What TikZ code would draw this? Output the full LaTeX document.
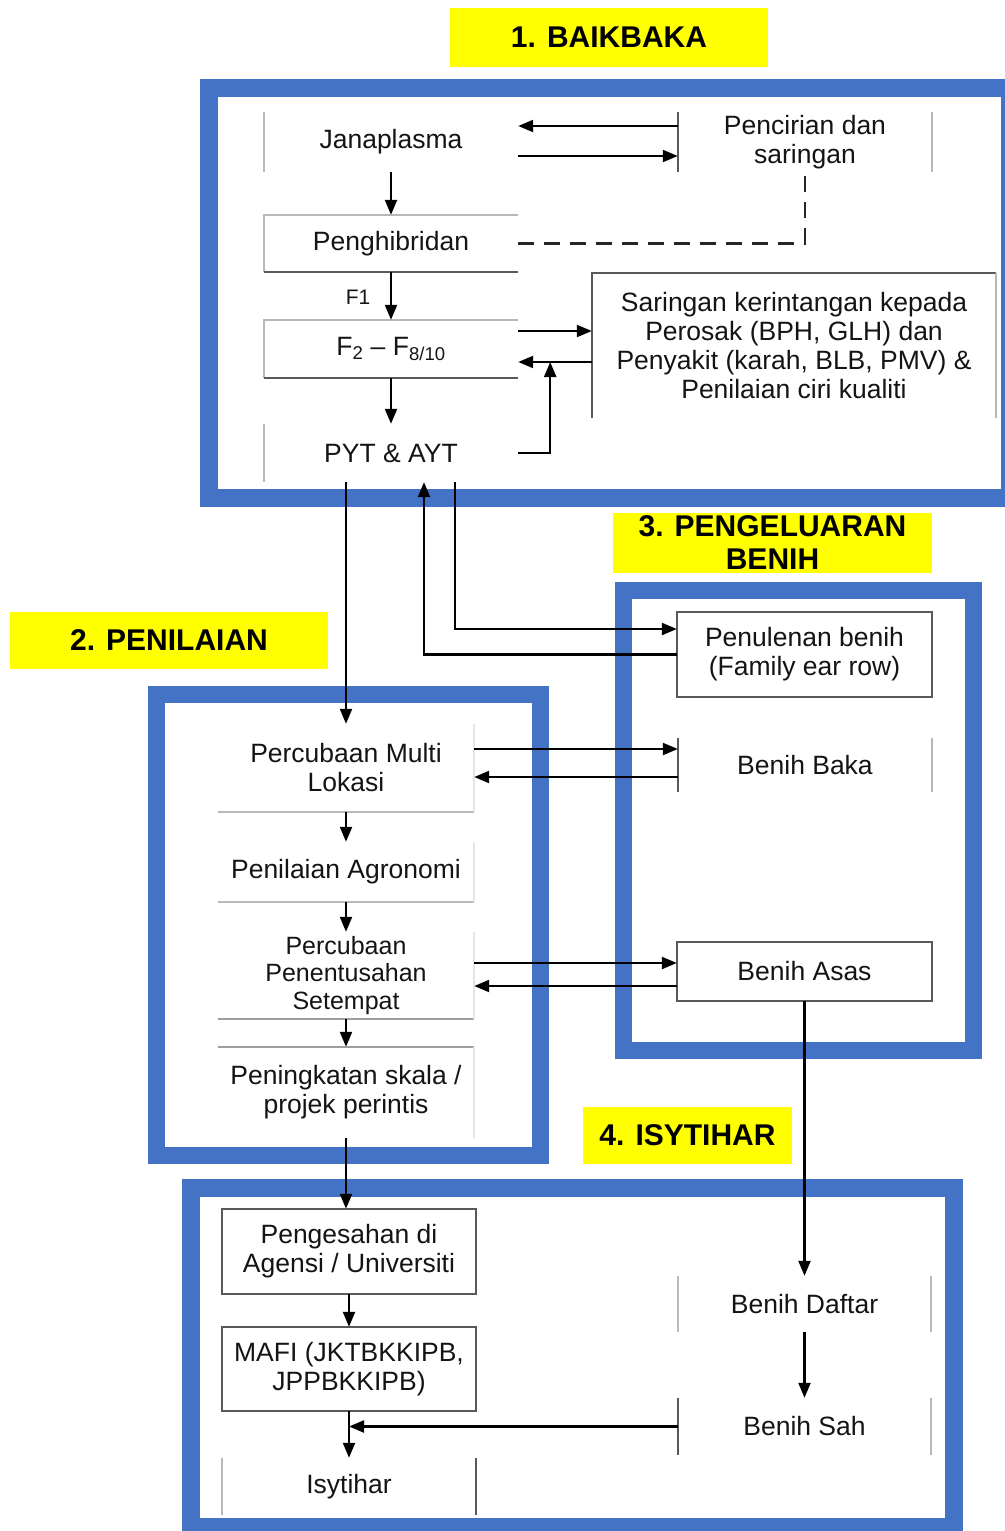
\documentclass[tikz,border=0pt]{standalone}
\usepackage{fontspec}
\setmainfont{Liberation Sans}
\usetikzlibrary{arrows.meta,calc}
\definecolor{fblue}{RGB}{68,114,196}
\definecolor{ylw}{RGB}{255,255,0}
\tikzset{
  txt/.style={inner sep=0pt, align=center, text=black!92, font=\fontsize{26.5}{29}\selectfont},
  bx/.style 2 args={txt, minimum width=#1, minimum height=#2},
  ttl/.style={fill=ylw, inner sep=0pt, align=center, text=black, font=\fontsize{30}{33}\bfseries\selectfont},
  arr/.style={draw=black, line width=2.2pt, -{Triangle[length=15pt,width=12pt]}},
  dsh/.style={draw=black!85, line width=2.2pt, dash pattern=on 16pt off 10pt},
  lt/.style={draw=black!28, line width=1.7pt},
  vlt/.style={draw=black!10, line width=1.5pt},
  dk/.style={draw=black!65, line width=1.9pt},
  frame/.style={draw=fblue, line width=18pt}
}
\begin{document}
\begin{tikzpicture}[x=1pt,y=-1pt]
\useasboundingbox (0,0) rectangle (1004,1531);
\fill[white] (0,0) rectangle (1004,1531);

% frames
\draw[frame] (209,88) rectangle (1010,498);
\draw[frame, line width=17pt] (623.5,590.5) rectangle (973.5,1050.5);
\draw[frame, line width=17pt] (156.5,694.5) rectangle (540.5,1155.5);
\draw[frame] (191,1188) rectangle (954,1527);

% titles
\node[ttl, minimum width=318pt, minimum height=59pt] (t1) at (609,37.5) {1. BAIKBAKA};
\node[ttl, minimum width=319pt, minimum height=60pt] (t3) at (772.5,543) {3. PENGELUARAN\\BENIH};
\node[ttl, minimum width=318pt, minimum height=57pt] (t2) at (169,640.5) {2. PENILAIAN};
\node[ttl, minimum width=209pt, minimum height=57pt] (t4) at (687.5,1135.5) {4. ISYTIHAR};

% section 1
\node[bx={254pt}{60pt}] (jana) at (391,142) {Janaplasma};
\node[bx={254pt}{60pt}] (penc) at (805,142) {Pencirian dan\\saringan};
\node[bx={254pt}{57pt}] (hib) at (391,243.5) {Penghibridan};
\node[bx={254pt}{58pt}] (f2) at (391,349) {F\textsubscript{2} – F\textsubscript{8/10}};
\node[bx={404pt}{145pt}] (sar) at (794,345.5) {Saringan kerintangan kepada\\Perosak (BPH, GLH) dan\\Penyakit (karah, BLB, PMV) \&\\Penilaian ciri kualiti};
\node[bx={254pt}{58pt}] (pyt) at (391,453) {PYT \& AYT};
\node[txt, font=\fontsize{21}{24}\selectfont] (lf1) at (358,297) {F1};

% section 3
\node[bx={255pt}{85pt}] (pul) at (804.5,654.5) {Penulenan benih\\(Family ear row)};
\node[bx={254pt}{54pt}] (baka) at (805,765) {Benih Baka};
\node[bx={255pt}{59pt}] (asas) at (804.5,971.5) {Benih Asas};

% section 2
\node[bx={256pt}{88pt}] (pml) at (346,768) {Percubaan Multi\\Lokasi};
\node[bx={256pt}{60pt}] (agr) at (346,872) {Penilaian Agronomi};
\node[bx={256pt}{87pt}, font=\fontsize{25}{27.5}\selectfont] (pps) at (346,975.5) {Percubaan\\Penentusahan\\Setempat};
\node[bx={256pt}{91pt}] (ska) at (346,1092.5) {Peningkatan skala /\\projek perintis};

% section 4
\node[bx={254pt}{85pt}] (pgs) at (349,1251.5) {Pengesahan di\\Agensi / Universiti};
\node[bx={254pt}{84pt}] (mafi) at (349,1369) {MAFI (JKTBKKIPB,\\JPPBKKIPB)};
\node[bx={254pt}{57pt}] (isy) at (349,1486.5) {Isytihar};
\node[bx={253pt}{56pt}] (daf) at (804.5,1304) {Benih Daftar};
\node[bx={253pt}{57pt}] (sah) at (804.5,1426.5) {Benih Sah};

% box borders
\draw[lt] (jana.north west) -- (jana.south west);
\draw[dk] (penc.north west) -- (penc.south west);
\draw[lt] (penc.north east) -- (penc.south east);
\draw[lt] (hib.north east) -- (hib.north west) -- (hib.south west);
\draw[dk] (hib.south west) -- (hib.south east);
\draw[lt] (f2.north east) -- (f2.north west) -- (f2.south west);
\draw[dk] (f2.south west) -- (f2.south east);
\draw[dk] (sar.south west) -- (sar.north west) -- (sar.north east);
\draw[lt] (sar.north east) -- (sar.south east);
\draw[lt] (pyt.north west) -- (pyt.south west);
\draw[dk] (pul.north west) rectangle (pul.south east);
\draw[dk] (baka.north west) -- (baka.south west);
\draw[lt] (baka.north east) -- (baka.south east);
\draw[dk] (asas.north west) rectangle (asas.south east);
\draw[lt] (pml.south west) -- (pml.south east);
\draw[vlt] (pml.north east) -- (pml.south east);
\draw[lt] (agr.south west) -- (agr.south east);
\draw[vlt] (agr.north east) -- (agr.south east);
\draw[dk, draw=black!38] (pps.south west) -- (pps.south east);
\draw[vlt] (pps.north east) -- (pps.south east);
\draw[dk, draw=black!38] (ska.north west) -- (ska.north east);
\draw[vlt] (ska.north east) -- (ska.south east);
\draw[dk] (pgs.north west) rectangle (pgs.south east);
\draw[dk] (mafi.north west) rectangle (mafi.south east);
\draw[lt] (isy.north west) -- (isy.south west);
\draw[dk] (isy.north east) -- (isy.south east);
\draw[lt] (daf.north west) -- (daf.south west);
\draw[lt] (daf.north east) -- (daf.south east);
\draw[dk] (sah.north west) -- (sah.south west);
\draw[lt] (sah.north east) -- (sah.south east);

% connectors, section 1
\path ([yshift=16pt]penc.west) coordinate (pa);
\draw[arr] (pa) -- (pa -| jana.east);
\path ([yshift=-14pt]jana.east) coordinate (pb);
\draw[arr] (pb) -- (pb -| penc.west);
\draw[arr] (jana.south) -- (hib.north);
\draw[dsh] (hib.east) -| (penc.south);
\draw[arr] (hib.south) -- (f2.north);
\path ([yshift=18pt]f2.east) coordinate (fa);
\draw[arr] (fa) -- (fa -| sar.west);
\path ([yshift=-13pt]f2.east) coordinate (fb);
\draw[arr] (fb -| sar.west) -- (fb);
\draw[arr] (f2.south) -- (pyt.north);
\draw[arr] (pyt.east) -- ++(32,0) coordinate (pc) -- (pc |- fb);

% connectors between sections
\draw[arr] (pml.north |- pyt.south) -- (pml.north);
\draw[arr] (pul.west) -| ([xshift=33pt]pyt.south);
\draw[arr] ([xshift=64pt]pyt.south) |- ([yshift=25.5pt]pul.west);

% section 2 / 3
\path ([yshift=19pt]pml.east) coordinate (ma);
\draw[arr] (ma) -- (ma -| baka.west);
\path ([yshift=-9pt]pml.east) coordinate (mb);
\draw[arr] (mb -| baka.west) -- (mb);
\draw[arr] (pml.south) -- (agr.north);
\draw[arr] (agr.south) -- (pps.north);
\path ([yshift=12.5pt]pps.east) coordinate (qa);
\draw[arr] (qa) -- (qa -| asas.west);
\path ([yshift=-10.5pt]pps.east) coordinate (qb);
\draw[arr] (qb -| asas.west) -- (qb);
\draw[arr] (pps.south) -- (ska.north);
\draw[arr] (ska.south) -- (ska.south |- pgs.north);

% section 4
\draw[arr] (asas.south) -- (daf.north);
\draw[arr] (daf.south) -- (sah.north);
\draw[arr] (pgs.south) -- (mafi.north);
\draw[arr] (mafi.south) -- (isy.north);
\draw[arr] (sah.west) -- (sah.west -| mafi.south);
\end{tikzpicture}
\end{document}
